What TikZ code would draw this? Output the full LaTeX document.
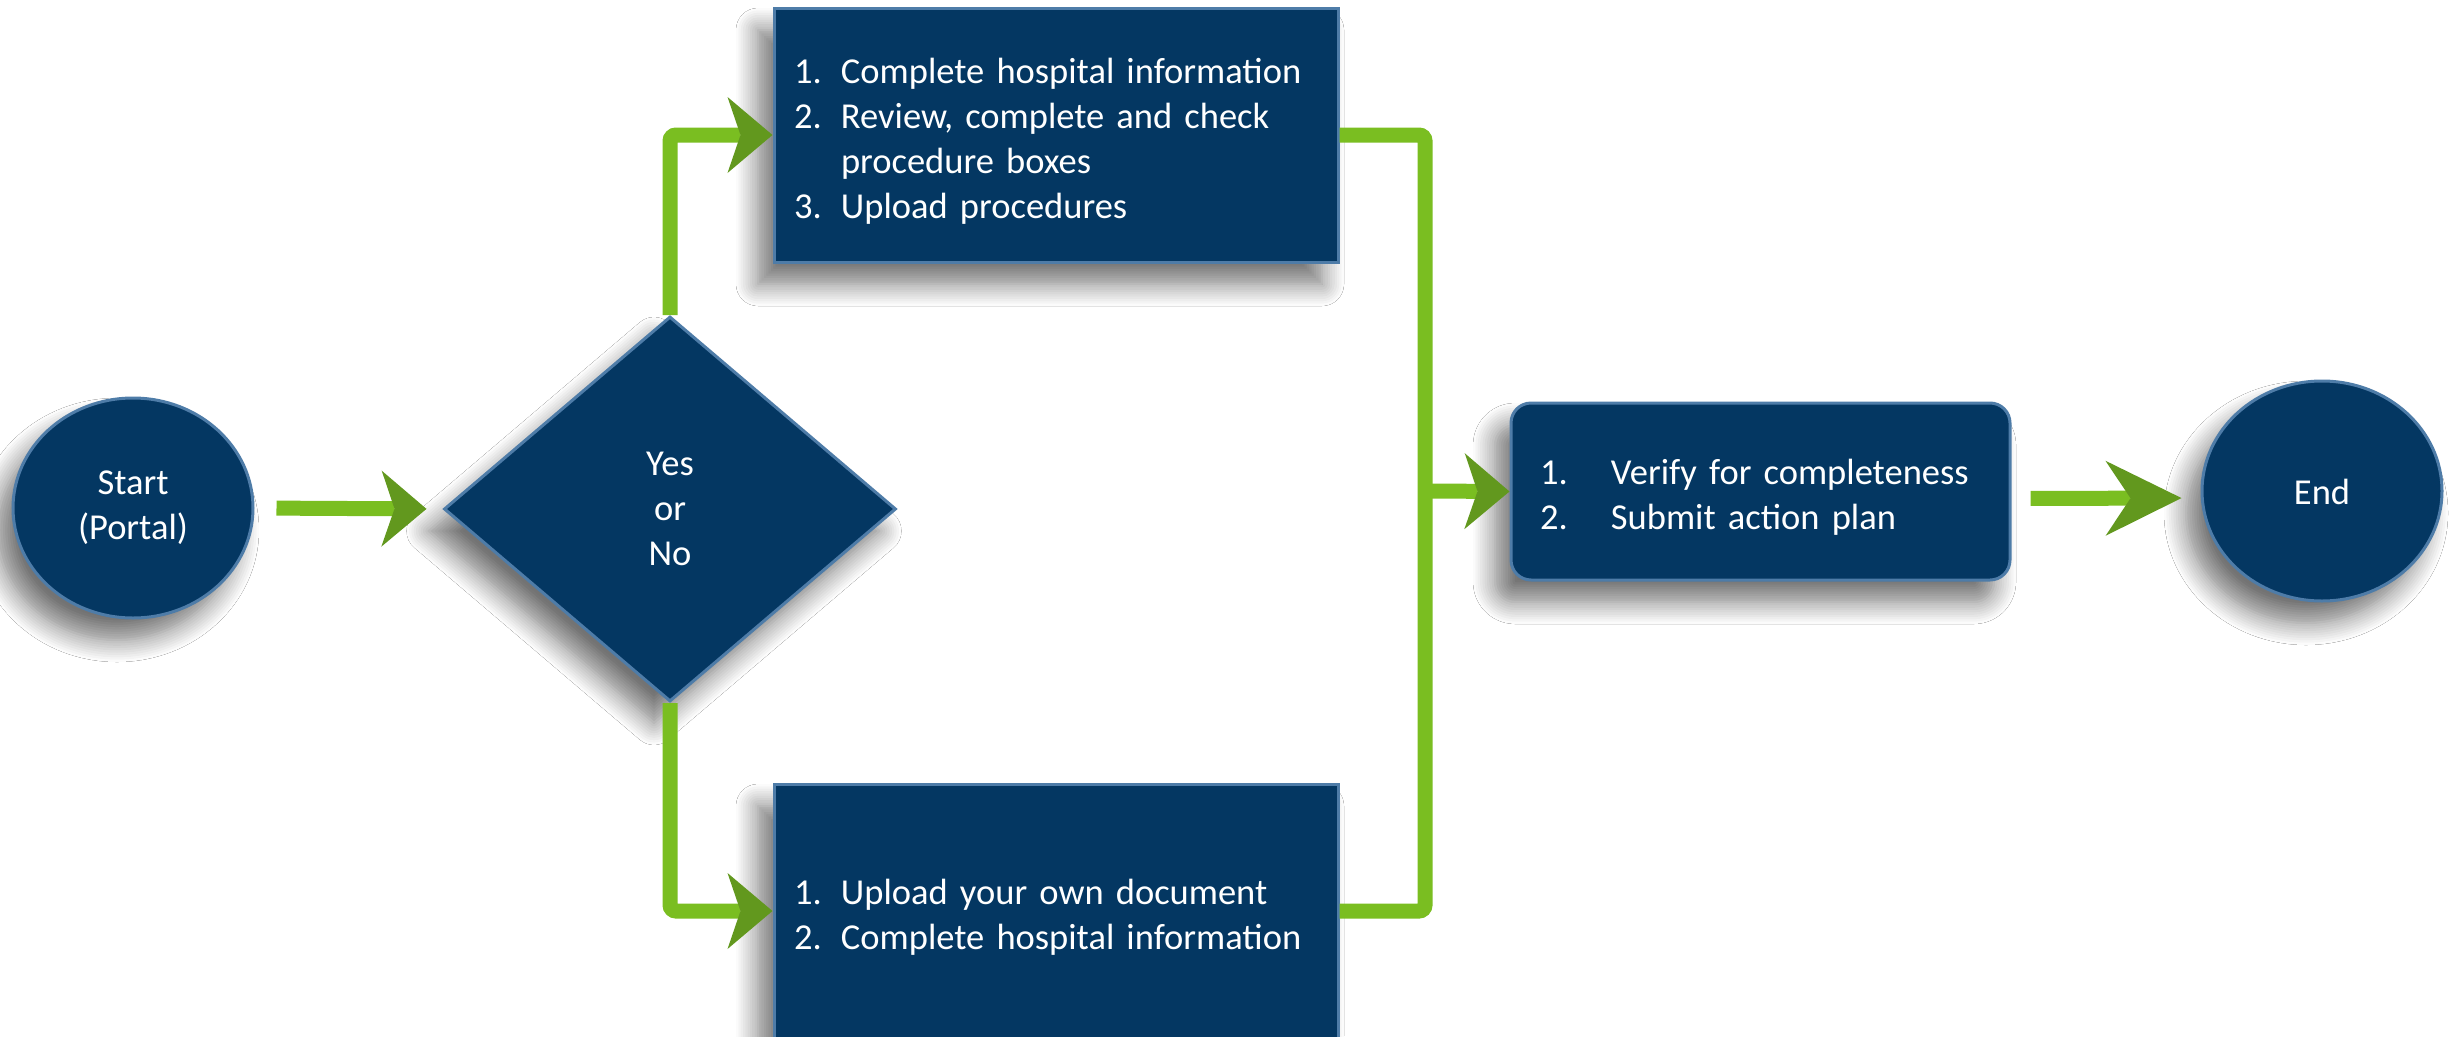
\documentclass[tikz,border=0pt]{standalone}
\usepackage{fontspec}
\setmainfont{Carlito}
\usetikzlibrary{shapes.geometric,arrows.meta,shadows.blur,calc}

\definecolor{navy}{RGB}{4,55,98}
\definecolor{bevel}{RGB}{78,124,168}
\definecolor{flowgreen}{RGB}{122,190,33}
\definecolor{tipgreen}{RGB}{98,152,30}

\tikzset{
  shape base/.style={fill=navy, draw=bevel, line width=3pt, text=white,
    font=\fontsize{36.5pt}{45pt}\selectfont, inner sep=0pt,
    blur shadow={shadow xshift=-16pt, shadow yshift=-22pt,
      shadow blur radius=22pt, shadow opacity=55, shadow blur steps=10}},
  terminal/.style={shape base, ellipse, minimum width=240pt, minimum height=220pt, align=center},
  decision/.style={shape base, diamond, minimum width=452pt, minimum height=385pt, align=center},
  % a tall strut on the first line drops the text block a little inside the shape
  lowered/.style={execute at begin node={\rule{0pt}{#1}}},
  stepbox/.style={shape base, rectangle, align=left, inner xsep=20pt, lowered=38pt},
  checkbox/.style={shape base, rectangle, rounded corners=20pt, align=left, inner xsep=29pt,
    lowered=37pt},
  flow/.style={draw=flowgreen, line width=15pt},
  headshort/.style={-{Stealth[length=45pt, width=76pt, inset=13pt, line width=0pt, color=tipgreen]}},
  headlong/.style={-{Stealth[length=76pt, width=75pt, inset=25pt, line width=0pt, color=tipgreen]}}
}
\newcommand{\itemno}[1]{\makebox[47pt][l]{#1}}
\newcommand{\itemwide}[1]{\makebox[71pt][l]{#1}}

\begin{document}
\begin{tikzpicture}[x=1pt,y=-1pt]
\useasboundingbox (0,0) rectangle (2460,1036);
\fill[white] (0,0) rectangle (2460,1036);
\begin{scope}
\clip (0,0) rectangle (2460,1036);

% shapes
\node[terminal, lowered=33pt] (start) at (133,508) {Start\\(Portal)};
\node[decision, lowered=27pt] (dec) at (670,509) {Yes\\or\\No};
\node[stepbox, text width=524pt, minimum height=254pt] (top) at (1056,135)
  {\itemno{1.}Complete hospital information\\
   \itemno{2.}Review, complete and check\\
   \hspace*{47pt}procedure boxes\\
   \itemno{3.}Upload procedures};
\node[stepbox, text width=524pt, minimum height=254pt] (bot) at (1056,911)
  {\itemno{1.}Upload your own document\\
   \itemno{2.}Complete hospital information};
\node[checkbox, text width=441pt, minimum height=177pt] (check) at (1760.5,491.5)
  {\itemwide{1.}Verify for completeness\\
   \itemwide{2.}Submit action plan};
\node[terminal, lowered=28pt] (end) at (2322,491) {End};

\coordinate (bus) at (1425,491);

% connectors
\draw[flow, headshort, shorten <=22pt, shorten >=16pt] (start.east) -- (dec.west);
\draw[flow, headshort, rounded corners=6pt] (dec.north) |- (top.west);
\draw[flow, headshort, rounded corners=6pt] (dec.south) |- (bot.west);
\draw[flow, rounded corners=6pt] (top.east) -| (bus) |- (bot.east);
\draw[flow, headshort] (bus) -- (check.west);
\draw[flow, headlong, shorten <=19pt, shorten >=19pt]
  ($(check.east)+(0,7)$) -- ($(end.west)+(0,7)$);
\end{scope}
\end{tikzpicture}
\end{document}
